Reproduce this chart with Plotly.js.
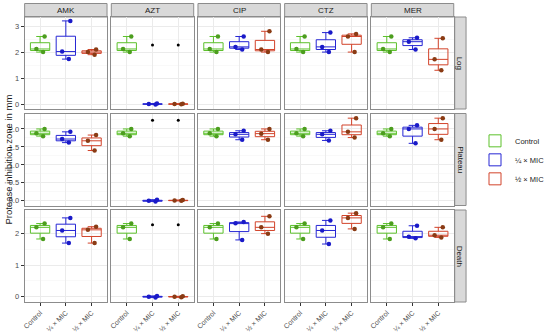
<!DOCTYPE html>
<html><head><meta charset="utf-8">
<script src="https://cdn.plot.ly/plotly-3.0.1.min.js"></script>
<style>html,body{margin:0;padding:0;background:#fff}#chart{width:550px;height:333px}</style>
</head><body><div id="chart"></div>
<script>
const drugs = ["AMK","AZT","CIP","CTZ","MER"];
const phases = ["Log","Plateau","Death"];
const groups = ["Control","¼ × MIC","½ × MIC"];

// values per drug: [AMK, AZT, CIP, CTZ, MER]
const logControl = [2.0, 2.12, 2.6];
const logQuarter = [[1.73,2.02,3.2],[-0.02,0.0,0.02],[2.1,2.2,2.6],[2.0,2.2,2.75],[2.1,2.4,2.55]];
const logHalf = [[1.9,2.0,2.1],[-0.01,0.0,0.01],[2.0,2.1,2.8],[2.0,2.6,2.7],[1.3,1.72,2.53]];

const plateauControl = [1.8, 1.88, 2.0];
const plateauQuarter = [[1.62,1.72,1.92],[-0.02,0.0,0.03],[1.7,1.85,1.95],[1.68,1.85,1.95],[1.6,2.0,2.1]];
const plateauHalf = [[1.4,1.67,1.83],[0.0,0.01,0.02],[1.7,1.87,2.0],[1.76,1.92,2.3],[1.7,2.0,2.3]];

const deathControl = [1.83, 2.2, 2.32];
const deathQuarter = [[1.7,2.1,2.5],[-0.03,0.0,0.02],[1.8,2.33,2.37],[1.67,2.1,2.42],[1.85,1.9,2.25]];
const deathHalf = [[1.7,2.12,2.22],[-0.02,0.0,0.01],[2.0,2.2,2.55],[2.15,2.5,2.65],[1.88,1.95,2.2]];

// extra black points in the AZT panels (Log, Plateau, Death) at both MIC groups
const aztExtraY = [2.27, 2.24, 2.28];

const W = 550, H = 333;
const colL = [26, 117.5, 209, 300.5, 392], colW = 87;
const rowT = [17, 113.5, 210], rowH = 92;
const yRanges = [[-0.19, 3.35], [-0.13, 2.43], [-0.17, 2.75]];
const yDtick = [1, 0.5, 1];
const yFmt = ['d', '.1f', 'd'];

const boxColors = ['#5CC12B', '#2626D4', '#D2432A'];
const ptColors = ['#4C9E1E', '#1A1AC8', '#8A3B14'];

const rowData = [
  [logControl, logQuarter, logHalf],
  [plateauControl, plateauQuarter, plateauHalf],
  [deathControl, deathQuarter, deathHalf]
];

const traces = [];
const layout = {
  width: W, height: H,
  margin: {l: 0, r: 0, t: 0, b: 0},
  paper_bgcolor: '#fff', plot_bgcolor: '#fff',
  font: {family: 'Liberation Sans, Arial, sans-serif', color: '#1A1A1A'},
  showlegend: true,
  legend: {x: 0.912, y: 0.52, xanchor: 'left', yanchor: 'middle', font: {size: 7.5, color: '#1A1A1A'},
           tracegroupgap: 0, bgcolor: 'rgba(0,0,0,0)'},
  shapes: [], annotations: []
};

for (let r = 0; r < 3; r++) {
  for (let c = 0; c < 5; c++) {
    const idx = r * 5 + c + 1;
    const xa = 'x' + (idx === 1 ? '' : idx), ya = 'y' + (idx === 1 ? '' : idx);
    const xk = 'xaxis' + (idx === 1 ? '' : idx), yk = 'yaxis' + (idx === 1 ? '' : idx);
    const bottom = r === 2, left = c === 0;
    layout[xk] = {
      domain: [colL[c] / W, (colL[c] + colW) / W], anchor: ya,
      type: 'category', categoryorder: 'array', categoryarray: groups,
      range: [-0.6, 2.6], showgrid: true, gridcolor: '#EBEBEB', gridwidth: 1,
      showline: true, mirror: true, linecolor: '#8C8C8C', linewidth: 1,
      ticks: bottom ? 'outside' : '', ticklen: 3, tickcolor: '#333',
      showticklabels: bottom, tickangle: -45, tickfont: {size: 7, color: '#4D4D4D'},
      zeroline: false, fixedrange: true
    };
    layout[yk] = {
      domain: [1 - (rowT[r] + rowH) / H, 1 - rowT[r] / H], anchor: xa,
      range: yRanges[r], dtick: yDtick[r], tick0: 0, tickformat: yFmt[r],
      showgrid: true, gridcolor: '#EBEBEB', gridwidth: 1,
      minor: {dtick: yDtick[r] / 2, showgrid: true, gridcolor: '#F4F4F4', gridwidth: 0.5},
      showline: true, mirror: true, linecolor: '#8C8C8C', linewidth: 1,
      ticks: left ? 'outside' : '', ticklen: 3, tickcolor: '#333',
      showticklabels: left, tickfont: {size: 7.5, color: '#4D4D4D'},
      zeroline: false, fixedrange: true
    };
    for (let g = 0; g < 3; g++) {
      const vals = g === 0 ? rowData[r][0] : rowData[r][g][c];
      traces.push({
        type: 'box', x: vals.map(() => groups[g]), y: vals, xaxis: xa, yaxis: ya,
        name: groups[g], legendgroup: groups[g], showlegend: idx === 1,
        boxpoints: 'all', jitter: 0.6, pointpos: 0, width: 0.75, whiskerwidth: 0.4,
        quartilemethod: 'inclusive',
        line: {color: boxColors[g], width: 1}, fillcolor: 'rgba(255,255,255,0)',
        marker: {color: ptColors[g], size: 4.5},
        hoverinfo: 'skip'
      });
    }
    if (c === 1) {
      traces.push({
        type: 'scatter', mode: 'markers', x: [groups[1], groups[2]], y: [aztExtraY[r], aztExtraY[r]],
        xaxis: xa, yaxis: ya, showlegend: false, marker: {color: '#000', size: 3}, hoverinfo: 'skip'
      });
    }
  }
}

// top strips
for (let c = 0; c < 5; c++) {
  layout.shapes.push({type: 'rect', xref: 'paper', yref: 'paper',
    x0: colL[c] / W, x1: (colL[c] + colW) / W, y0: 1 - 17 / H, y1: 1 - 3.5 / H,
    fillcolor: '#D9D9D9', line: {color: '#8C8C8C', width: 1}, layer: 'below'});
  layout.annotations.push({xref: 'paper', yref: 'paper', x: (colL[c] + colW / 2) / W, y: 1 - 10.25 / H,
    text: drugs[c], showarrow: false, font: {size: 8, color: '#1A1A1A'}, xanchor: 'center', yanchor: 'middle'});
}
// right strips
for (let r = 0; r < 3; r++) {
  layout.shapes.push({type: 'rect', xref: 'paper', yref: 'paper',
    x0: 480 / W, x1: 492 / W, y0: 1 - (rowT[r] + rowH) / H, y1: 1 - rowT[r] / H,
    fillcolor: '#D9D9D9', line: {color: '#8C8C8C', width: 1}, layer: 'below'});
  layout.annotations.push({xref: 'paper', yref: 'paper', x: 486 / W, y: 1 - (rowT[r] + rowH / 2) / H,
    text: phases[r], showarrow: false, textangle: 90, font: {size: 8, color: '#1A1A1A'},
    xanchor: 'center', yanchor: 'middle'});
}
// y axis title
layout.annotations.push({xref: 'paper', yref: 'paper', x: 8 / W, y: 1 - 160 / H,
  text: 'Protease inhibition zone in mm', showarrow: false, textangle: -90,
  font: {size: 9.5, color: '#1A1A1A'}, xanchor: 'center', yanchor: 'middle'});

Plotly.newPlot('chart', traces, layout, {staticPlot: true, displayModeBar: false});
</script>
</body></html>
